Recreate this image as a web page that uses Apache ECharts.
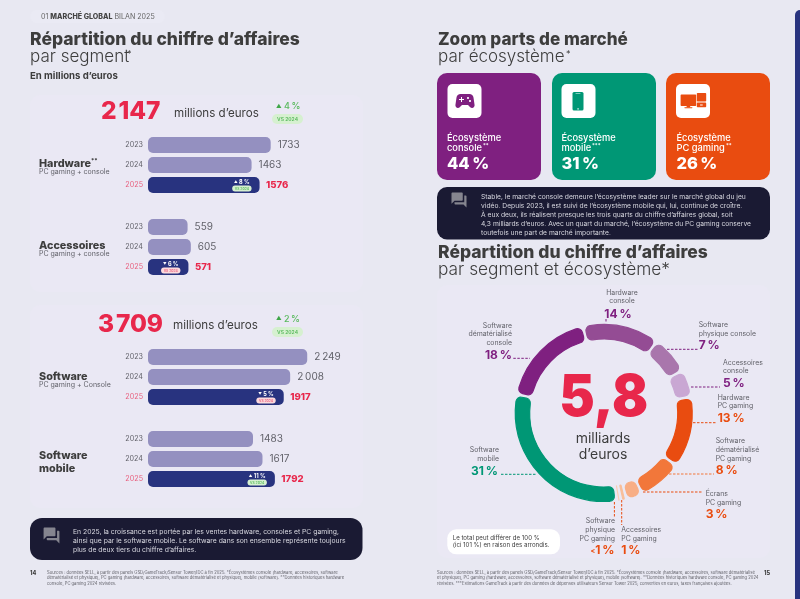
<!DOCTYPE html>
<html lang="fr">
<head>
<meta charset="utf-8">
<title>Marché global, bilan 2025</title>
<script src="https://cdn.jsdelivr.net/npm/echarts@6/dist/echarts.min.js"></script>
<style>
html,body{margin:0;padding:0;background:#E8E8F2}
#chart{width:800px;height:599px}
</style>
</head>
<body>
<div id="chart"></div>
<script>
// Chiffre d'affaires par segment, en millions d'euros
const years = ['2023', '2024', '2025'];
const hardwareValues = [1733, 1463, 1576];
const accessoiresValues = [559, 605, 571];
const softwareValues = [2249, 2008, 1917];
const mobileValues = [1483, 1617, 1792];
const segmentDeltas = [['▲', '8 %'], ['▼', '6 %'], ['▼', '5 %'], ['▲', '11 %']];

// Répartition par segment et écosystème, en %
const donutSegments = ['Hardware console', 'Software physique console', 'Accessoires console',
  'Hardware PC gaming', 'Software dématérialisé PC gaming', 'Écrans PC gaming',
  'Accessoires PC gaming', 'Software physique PC gaming', 'Software mobile',
  'Software dématérialisé console'];
const donutValues = [14, 7, 5, 13, 8, 3, 1, 0.4, 31, 18];
const donutColors = ['#944C94', '#A976AC', '#C9A7D3', '#E94C10', '#F2773A', '#F8AE85',
  '#F8BE9A', '#F9CDB5', '#009775', '#7F2080'];

// Parts de marché par écosystème
const ecosystemLabels = [['Écosystème', 'console'], ['Écosystème', 'mobile'], ['Écosystème', 'PC gaming']];
const ecosystemMarks = ['**', '***', '**'];
const ecosystemShares = ['44\u2009%', '31\u2009%', '26\u2009%'];

const INK = '#3D3D3D', GREY = '#62626A', RED = '#E8274B', GREEN = '#58B95C', NAVY = '#28337F', LILAC = '#9490C0';
const PURPLE = '#7F2080', TEAL = '#009775', ORANGE = '#E94C10', DARK = '#1A1A33';
const FONT = 'Inter, "Noto Sans", sans-serif';

// Pictogrammes
const CHAT = 'M21 6h-2v9H6v2c0 .55.45 1 1 1h11l4 4V7c0-.55-.45-1-1-1zm-4 6V3c0-.55-.45-1-1-1H3c-.55 0-1 .45-1 1v14l4-4h10c.55 0 1-.45 1-1z';
const PAD = 'M21.58 16.09l-1.09-7.66C20.21 6.46 18.52 5 16.53 5H7.47C5.48 5 3.79 6.46 3.51 8.43l-1.09 7.66C2.2 17.63 3.39 19 4.94 19c.68 0 1.32-.27 1.8-.75L9 16h6l2.25 2.25c.48.48 1.13.75 1.8.75 1.56 0 2.75-1.37 2.53-2.91zM11 11H9v2H8v-2H6v-1h2V8h1v2h2v1zm4-1c-.55 0-1-.45-1-1s.45-1 1-1 1 .45 1 1-.45 1-1 1zm2 3c-.55 0-1-.45-1-1s.45-1 1-1 1 .45 1 1-.45 1-1 1z';
echarts.graphic.registerShape('chatIcon', echarts.graphic.extendPath(CHAT, {}));
echarts.graphic.registerShape('padIcon', echarts.graphic.extendPath(PAD, {}));

const chart = echarts.init(document.getElementById('chart'));

// Texte positionné
function txt(x, y, text, size, fill, weight, align, z) {
  return { type: 'text', x, y, z: z || 10, silent: true,
    style: { text, fill: fill || INK, font: (weight || 400) + ' ' + size + 'px ' + FONT,
      textAlign: align || 'left', textVerticalAlign: 'middle' } };
}
function box(x, y, w, h, r, fill, z) {
  return { type: 'rect', z: z === undefined ? 5 : z, silent: true,
    shape: { x, y, width: w, height: h, r }, style: { fill } };
}
function icon(type, x, y, w, h, fill) {
  return { type, z: 8, silent: true, x, y, scaleX: w / 24, scaleY: h / 24, style: { fill } };
}
function dash(x1, y1, x2, y2, stroke) {
  return { type: 'line', z: 6, silent: true, shape: { x1, y1, x2, y2 },
    style: { stroke, lineWidth: 1, lineDash: [2.5, 1.5] } };
}
function lines(x, ys, rows, size, fill, weight, align) {
  return rows.map((r, i) => txt(x, ys[i], r, size, fill, weight, align));
}
// Évolution annuelle : petite flèche suivie du pourcentage
function arrowPct(x, y, pct) {
  return [txt(x, y - 0.3, '▲', 5.6, '#3FA648', 400), txt(x + 8, y, pct, 9, GREEN, 500)];
}

const elements = [
  // Fonds
  box(795, 10, 12, 600, 5, NAVY, -1),
  box(30, 10, 135, 13, 6.5, '#EAEAF4', -1),
  box(30, 95, 333, 197, 10, '#EAE8F4', -1),
  box(30, 305, 333, 203, 10, '#EAE8F4', -1),
  box(437, 285, 333, 273, 10, '#EAE8F4', -1),

  // En-tête de la page 14
  { type: 'text', x: 41, y: 17, z: 10, silent: true, style: {
      text: '{a|01 }{b|MARCHÉ GLOBAL}{a| BILAN 2025}', textVerticalAlign: 'middle', font: '7px ' + FONT,
      rich: { a: { fill: '#666', font: '400 7.1px ' + FONT }, b: { fill: '#444', font: '800 7.1px ' + FONT } } } },

  txt(30, 40, 'Répartition du chiffre d’affaires', 17.5, INK, 800),
  txt(30, 57, 'par segment', 17, INK, 300),
  txt(127, 54, '*', 9, INK, 400),
  txt(30, 76, 'En millions d’euros', 9.6, INK, 700),

  // Totaux des deux blocs
  txt(101, 112, '2\u200a147', 24.5, RED, 800),
  txt(174, 114, 'millions d’euros', 11.6, INK, 400),
  ...arrowPct(276, 106.5, '4\u2009%'),
  box(272, 114, 31, 10, 5, '#D6F0D0', 8),
  txt(287.5, 119, 'VS 2024', 5, GREEN, 600, 'center'),

  txt(98, 325, '3\u200a709', 24.5, RED, 800),
  txt(173, 326, 'millions d’euros', 11.6, INK, 400),
  ...arrowPct(276, 319, '2\u2009%'),
  box(272, 327, 31, 10, 5, '#D6F0D0', 8),
  txt(287.5, 332, 'VS 2024', 5, GREEN, 600, 'center'),

  // Noms des segments
  txt(39, 163.5, 'Hardware', 10.8, INK, 800),
  txt(91, 161.5, '**', 6, INK, 700),
  txt(39, 172, 'PC gaming + console', 7, GREY),
  txt(39, 246, 'Accessoires', 10.8, INK, 800),
  txt(39, 254, 'PC gaming + console', 7, GREY),
  txt(39, 377, 'Software', 10.8, INK, 800),
  txt(39, 385, 'PC gaming + Console', 7, GREY),
  txt(39, 456, 'Software', 10.8, INK, 800),
  txt(39, 469, 'mobile', 10.8, INK, 800),

  // Encadré de la page 14
  box(30, 518, 332.5, 42, 12, DARK),
  icon('chatIcon', 42, 526, 19, 19, '#85858F'),
  ...lines(73, [532, 541, 549.6], [
    'En 2025, la croissance est portée par les ventes hardware, consoles et PC gaming,',
    'ainsi que par le software mobile. Le software dans son ensemble représente toujours',
    'plus de deux tiers du chiffre d’affaires.'], 6.8, '#D8D8E0'),

  txt(30, 573, '14', 5.5, INK, 800),
  ...lines(47, [572.6, 578, 583.3], [
    'Sources : données SELL, à partir des panels GSD/GameTrack/Sensor Tower/IDC à fin 2025. *Écosystèmes console (hardware, accessoires, software',
    'dématérialisé et physique), PC gaming (hardware, accessoires, software dématérialisé et physique), mobile (software). **Données historiques hardware',
    'console, PC gaming 2024 révisées.'], 4.15, GREY),

  // Zoom par écosystème
  txt(438, 40, 'Zoom parts de marché', 17.1, INK, 800),
  txt(438, 57, 'par écosystème', 17, INK, 300),
  txt(566, 54, '*', 9, INK, 400),

  box(437, 73, 104, 107, 10, PURPLE),
  box(552, 73, 104, 107, 10, TEAL),
  box(666, 73, 104, 107, 10, ORANGE),
  box(447.5, 84, 34, 34, 5, '#FFFFFF', 7),
  box(561.5, 84, 34, 34, 5, '#FFFFFF', 7),
  box(676, 84, 34, 34, 5, '#FFFFFF', 7),
  icon('padIcon', 453, 89, 24, 24, PURPLE),

  box(572.5, 92, 11, 18.5, 1.5, TEAL, 8),
  box(575.5, 93.4, 5, 0.7, 0.3, '#FFFFFF', 9),
  box(577.3, 108.2, 1.5, 1.2, 0.5, '#FFFFFF', 9),

  box(680.6, 94.4, 15.6, 11.6, 0.8, ORANGE, 8),
  box(686.6, 106, 3.6, 1.4, 0, ORANGE, 8),
  box(684.4, 107.2, 8, 1, 0.4, ORANGE, 8),
  box(696.8, 93, 9.4, 8.6, 0.8, ORANGE, 8),
  box(696.8, 102.6, 9.4, 4.6, 0.8, ORANGE, 8),
  box(700, 104.4, 2.8, 1, 0.3, '#FFFFFF', 9),

  ...ecosystemLabels.flatMap((rows, i) => lines([447, 561.5, 676.5][i], [138, 148], rows, 9.3, '#FFFFFF', 500)),
  ...ecosystemMarks.map((m, i) => txt([483, 592, 726][i], 146, m, 5.5, '#FFFFFF', 500)),
  ...ecosystemShares.map((s, i) => txt([447, 561.5, 676.5][i], 164, s, 16.5, '#FFFFFF', 800)),

  // Encadré de la page 15
  box(437, 187, 333, 52.5, 10, DARK),
  icon('chatIcon', 450, 191, 18, 18, '#85858F'),
  ...lines(481, [196.5, 205.5, 214.5, 223.5, 232.5], [
    'Stable, le marché console demeure l’écosystème leader sur le marché global du jeu',
    'vidéo. Depuis 2023, il est suivi de l’écosystème mobile qui, lui, continue de croître.',
    'À eux deux, ils réalisent presque les trois quarts du chiffre d’affaires global, soit',
    '4,3 milliards d’euros. Avec un quart du marché, l’écosystème du PC gaming conserve',
    'toutefois une part de marché importante.'], 6.72, '#D8D8E0'),

  txt(438, 253, 'Répartition du chiffre d’affaires', 17.5, INK, 800),
  txt(438, 270, 'par segment et écosystème*', 17.3, INK, 300),

  // Centre de l'anneau
  { type: 'text', x: 603.7, y: 399, z: 10, silent: true, scaleX: 0.92, style: {
      text: '5,8', fill: RED, font: '900 58px ' + FONT, textAlign: 'center', textVerticalAlign: 'middle' } },
  txt(603, 439, 'milliards', 14, INK, 400, 'center'),
  txt(603, 455, 'd’euros', 14, INK, 400, 'center'),

  // Étiquettes de l'anneau et leurs filets
  ...lines(622, [292.7, 301.3], ['Hardware', 'console'], 6.9, GREY, 400, 'center'),
  txt(618, 314, '14\u2009%', 12, PURPLE, 700, 'center'),
  dash(606, 319, 606, 323, PURPLE),

  ...lines(698.7, [325, 333.5], ['Software', 'physique console'], 6.9, GREY),
  txt(698.7, 345.7, '7\u2009%', 12, PURPLE, 700),
  dash(667, 349.3, 698, 349.3, PURPLE),

  ...lines(723, [362.7, 371.3], ['Accessoires', 'console'], 6.9, GREY),
  txt(723, 383.3, '5\u2009%', 12, PURPLE, 700),
  dash(691, 387, 720, 387, PURPLE),

  ...lines(717.7, [397.7, 406.3], ['Hardware', 'PC gaming'], 6.9, GREY),
  txt(717.7, 418.3, '13\u2009%', 12, ORANGE, 700),
  dash(693, 422.7, 717, 422.7, ORANGE),

  ...lines(715.7, [441.3, 450, 458.7], ['Software', 'dématérialisé', 'PC gaming'], 6.9, GREY),
  txt(715.7, 470, '8\u2009%', 12, ORANGE, 700),
  dash(669, 474, 714, 474, '#F2773A'),

  ...lines(705.7, [493.7, 502.7], ['Écrans', 'PC gaming'], 6.9, GREY),
  txt(705.7, 514.3, '3\u2009%', 12, ORANGE, 700),
  dash(643, 492, 703, 492, ORANGE),

  ...lines(615, [521.3, 530, 538.7], ['Software', 'physique', 'PC gaming'], 6.9, GREY, 400, 'right'),
  { type: 'text', x: 614.5, y: 550.7, z: 10, silent: true, style: {
      text: '{s|<}{p|1\u2009%}', textAlign: 'right', textVerticalAlign: 'middle', font: '700 12px ' + FONT,
      rich: { s: { fill: ORANGE, font: '700 7px ' + FONT }, p: { fill: ORANGE, font: '700 12px ' + FONT } } } },
  dash(614.4, 502, 614.4, 517, ORANGE),

  ...lines(621.3, [530, 538.7], ['Accessoires', 'PC gaming'], 6.9, GREY),
  txt(621.3, 550.7, '1\u2009%', 12, ORANGE, 700),
  dash(621.7, 500, 621.7, 525, ORANGE),

  ...lines(499, [450, 458.7], ['Software', 'mobile'], 6.9, GREY, 400, 'right'),
  txt(498, 471, '31\u2009%', 12, TEAL, 700, 'right'),
  dash(501, 474.3, 537, 474.3, TEAL),

  ...lines(512, [325.7, 334.3, 343], ['Software', 'dématérialisé', 'console'], 6.9, GREY, 400, 'right'),
  txt(512, 355, '18\u2009%', 12, PURPLE, 700, 'right'),
  dash(513.3, 358.3, 530, 358.3, PURPLE),

  box(447.3, 529.3, 112.7, 25, 9, '#FFFFFF'),
  ...lines(452.7, [537.7, 545.3], ['Le total peut différer de 100 %', '(ici 101 %) en raison des arrondis.'], 6.1, INK),

  ...lines(437, [572.7, 578, 583.5], [
    'Sources : données SELL, à partir des panels GSD/GameTrack/Sensor Tower/IDC à fin 2025. *Écosystèmes console (hardware, accessoires, software dématérialisé',
    'et physique), PC gaming (hardware, accessoires, software dématérialisé et physique), mobile (software). **Données historiques hardware console, PC gaming 2024',
    'révisées. ***Estimations GameTrack à partir des données de dépenses utilisateurs Sensor Tower 2025, converties en euros, taxes françaises ajoutées.'], 4.15, GREY),
  txt(764, 573, '15', 5.5, INK, 800)
];

// Une grille de barres par segment, toutes à la même échelle
const barGroups = [
  { top: 135, values: hardwareValues, delta: segmentDeltas[0], up: true },
  { top: 217, values: accessoiresValues, delta: segmentDeltas[1], up: false },
  { top: 347, values: softwareValues, delta: segmentDeltas[2], up: false },
  { top: 429, values: mobileValues, delta: segmentDeltas[3], up: true }
];
const fmt = v => v >= 2000 ? String(v).replace(/^(\d)/, '$1\u2009') : String(v);

const grids = [], xAxes = [], yAxes = [], series = [];
barGroups.forEach((g, i) => {
  grids.push({ left: 148, top: g.top, width: 177, height: 60 });
  xAxes.push({ gridIndex: i, type: 'value', min: 0, max: 2500, show: false });
  yAxes.push({
    gridIndex: i, type: 'category', inverse: true, data: years,
    axisLine: { show: false }, axisTick: { show: false }, splitLine: { show: false },
    axisLabel: {
      margin: 5, fontSize: 7.2, fontFamily: FONT,
      color: (v) => v === '2025' ? '#E8607F' : GREY
    }
  });
  series.push({
    type: 'bar', xAxisIndex: i, yAxisIndex: i, barWidth: 16, silent: true, animation: false,
    data: g.values.map((v, k) => ({
      value: v,
      itemStyle: { color: k === 2 ? NAVY : LILAC, borderRadius: 5 },
      label: k === 2
        ? { show: true, position: 'right', distance: 6.5, color: RED, fontSize: 9.6, fontWeight: 800, fontFamily: FONT, formatter: fmt(v) }
        : { show: true, position: 'right', distance: 7, color: GREY, fontSize: 10, fontFamily: FONT, formatter: fmt(v) }
    }))
  });
  // Évolution 2025 vs 2024, affichée dans la barre
  series.push({
    type: 'bar', xAxisIndex: i, yAxisIndex: i, barWidth: 16, barGap: '-100%', silent: true, animation: false,
    itemStyle: { color: 'transparent' },
    data: g.values.map((v, k) => k === 2 ? v : null),
    label: {
      show: true, position: 'insideRight', distance: 8,
      formatter: `{a|${g.delta[0]}}{d| ${g.delta[1]}}\n{p|VS 2024}`,
      rich: {
        a: { color: '#FFFFFF', fontSize: 3.6, fontFamily: FONT, lineHeight: 7, align: 'center' },
        d: { color: '#FFFFFF', fontSize: 5.6, fontWeight: 700, fontFamily: FONT, lineHeight: 7, align: 'center' },
        p: { color: g.up ? '#58B95C' : '#E8607F', backgroundColor: g.up ? '#D6F0D0' : '#FBD9DC', fontSize: 3.4, fontWeight: 600,
             fontFamily: FONT, padding: [1.4, 2.6], borderRadius: 3, align: 'center', lineHeight: 6 }
      }
    }
  });
});

series.push({
  type: 'pie', silent: true, animation: false,
  center: [603.7, 413], radius: [74, 88.5], startAngle: 103.5, clockwise: true,
  padAngle: 2.6, avoidLabelOverlap: false, label: { show: false }, labelLine: { show: false },
  itemStyle: { borderRadius: 5 },
  data: donutSegments.map((name, i) => ({
    name, value: donutValues[i],
    itemStyle: { color: donutColors[i], borderColor: donutColors[i], borderWidth: 1.2 }
  }))
});

chart.setOption({
  backgroundColor: '#E8E8F2',
  animation: false,
  textStyle: { fontFamily: FONT },
  grid: grids, xAxis: xAxes, yAxis: yAxes, series,
  graphic: { elements }
});
</script>
</body>
</html>
